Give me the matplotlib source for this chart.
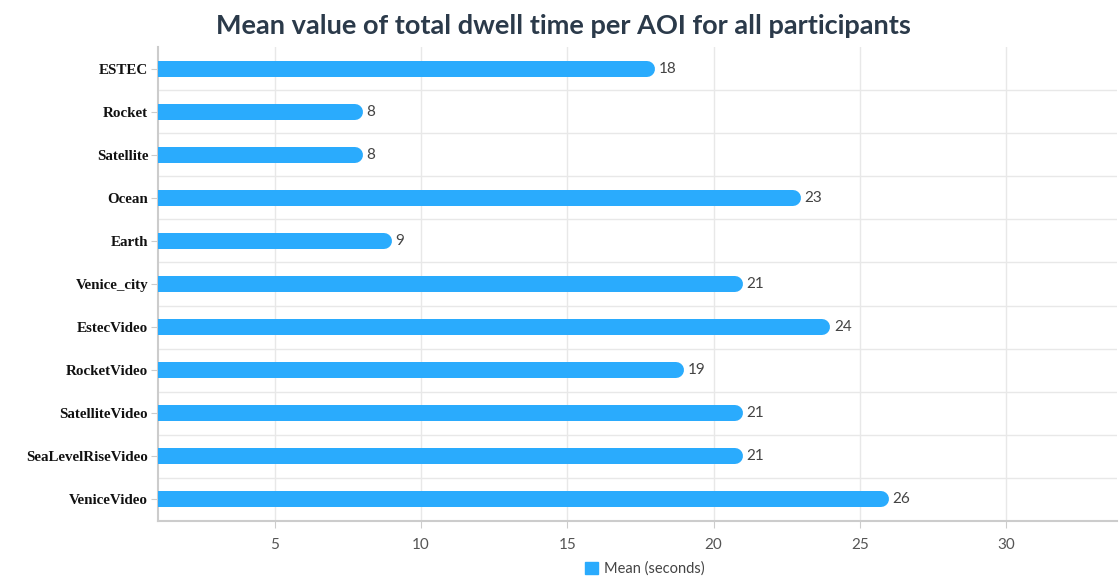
import matplotlib
matplotlib.use("Agg")
import matplotlib.pyplot as plt
from matplotlib.patches import Patch

categories = ["ESTEC", "Rocket", "Satellite", "Ocean", "Earth", "Venice_city",
              "EstecVideo", "RocketVideo", "SatelliteVideo", "SeaLevelRiseVideo", "VeniceVideo"]
values = [18, 8, 8, 23, 9, 21, 24, 19, 21, 21, 26]
xticks = [5, 10, 15, 20, 25, 30]

BAR = "#2aabfd"
fig = plt.figure(figsize=(11.19, 5.77), dpi=100)
ax = fig.add_axes([158/1119, 1-521/577, (1117-158)/1119, (521-47)/577])

n = len(categories)
ys = list(range(n))
ax.set_xlim(1, 33.8)
ax.set_ylim(n-0.5, -0.5)

bar_px = 16
lw = bar_px * 72 / 100
px_per_unit = ((1117-158) / (33.8-1))
r = (bar_px/2) / px_per_unit
lc = ax.hlines(ys, xmin=0, xmax=[v - r for v in values], colors=BAR, linewidth=lw, zorder=3)
lc.set_capstyle("round")

for y, v in zip(ys, values):
    ax.text(v + 0.12, y, str(v), va="center", ha="left", fontsize=11,
            color="#444444", family="Lato", zorder=4)

ax.set_yticks(ys)
ax.set_yticklabels(categories, family="Liberation Serif", fontweight="bold", fontsize=10.8, color="#111111")
ax.set_xticks(xticks)
ax.set_xticklabels([str(t) for t in xticks], family="Lato", fontsize=11, color="#555555")
ax.set_yticks([i + 0.5 for i in range(n-1)], minor=True)
ax.tick_params(axis="y", which="minor", length=0)
ax.tick_params(axis="y", which="major", length=5, color="#cccccc", pad=2)
ax.tick_params(axis="x", which="major", length=5, color="#cccccc", pad=7)

ax.grid(axis="x", which="major", color="#e8e8e8", linewidth=1, zorder=0)
ax.grid(axis="y", which="minor", color="#e8e8e8", linewidth=1, zorder=0)
ax.set_axisbelow(True)
for s in ["top", "right"]:
    ax.spines[s].set_visible(False)
for s in ["left", "bottom"]:
    ax.spines[s].set_color("#cccccc")
    ax.spines[s].set_linewidth(1.5)

fig.text(563/1119, 1-26/577, "Mean value of total dwell time per AOI for all participants",
         ha="center", va="center", fontsize=19.5, family="Lato", fontweight="bold", color="#2b3a4a")

handle = Patch(facecolor=BAR, edgecolor=BAR)
fig.legend([handle], ["Mean (seconds)"], loc="center", bbox_to_anchor=(645/1119, 1-569/577),
           frameon=False, prop={"family": "Lato", "size": 10.5}, handlelength=0.9, handleheight=0.9,
           handletextpad=0.4, labelcolor="#444444")

fig.savefig("out.png", dpi=100)
